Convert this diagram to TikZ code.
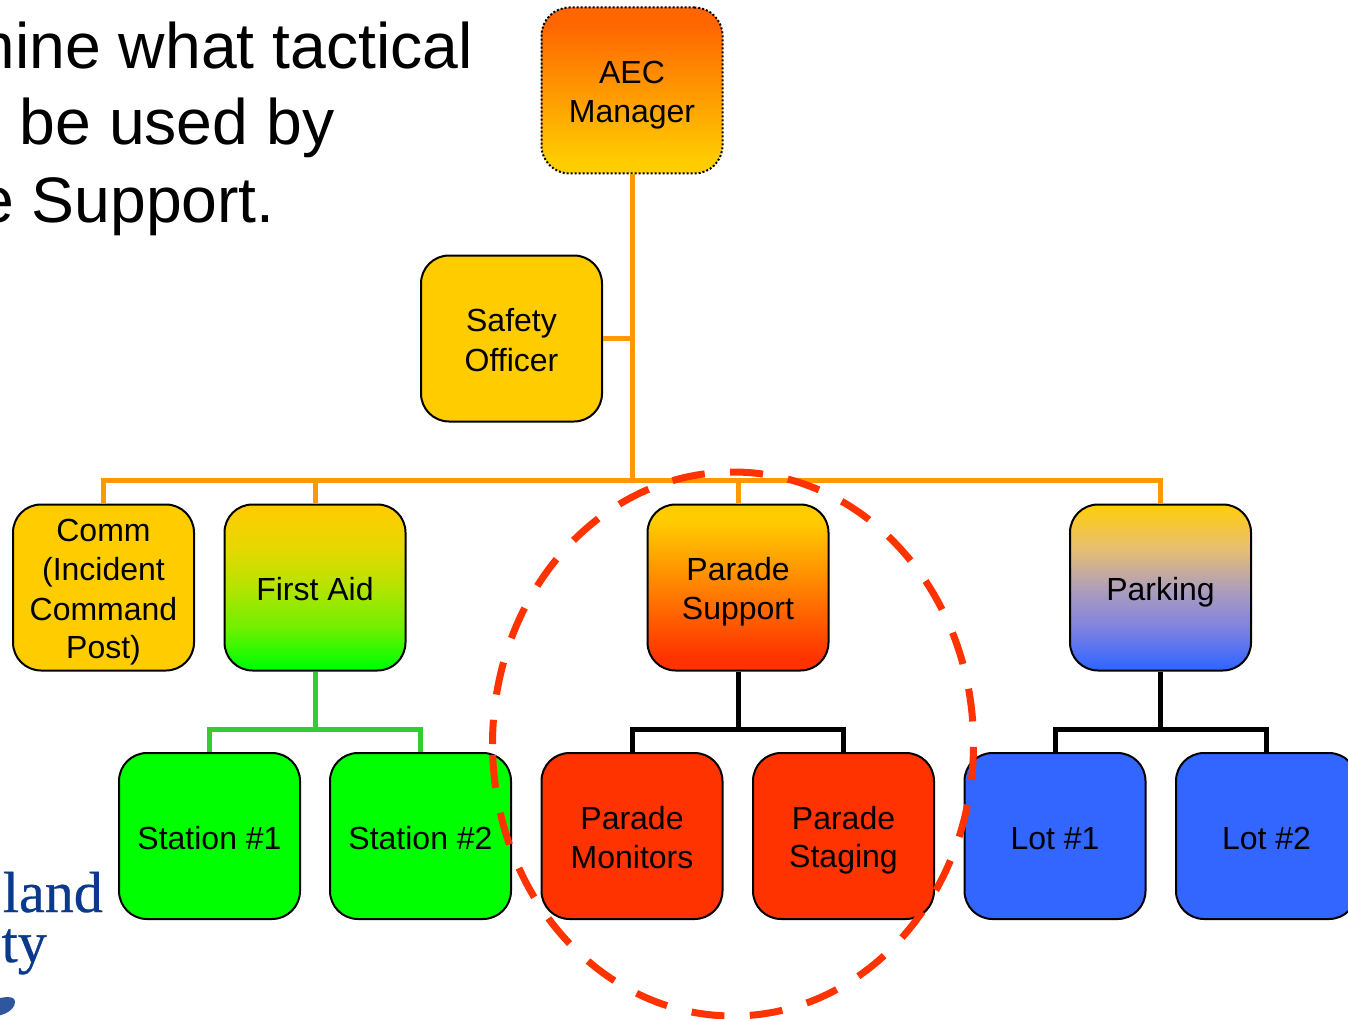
\documentclass[tikz,border=0pt]{standalone}
\usepackage{fontspec}
\setmainfont{Liberation Sans}
\newfontfamily\logofont[FakeBold=0.5]{Liberation Serif}
\usetikzlibrary{calc}
\definecolor{cOrange}{HTML}{FF9900}
\definecolor{cGreenLine}{HTML}{33CC33}
\definecolor{cRed}{HTML}{FF3300}
\definecolor{cGold}{HTML}{FFCC00}
\definecolor{cSoft}{HTML}{FFCC10}
\definecolor{cDeep}{HTML}{FF6600}
\definecolor{cLime}{HTML}{00FF00}
\definecolor{cBlue}{HTML}{3366FF}
\definecolor{cNavy}{HTML}{0B3A8C}
\definecolor{cAidA}{HTML}{E6D800}
\definecolor{cAidB}{HTML}{B4E400}
\definecolor{cAidC}{HTML}{70F000}
\definecolor{cParkA}{HTML}{E8BF70}
\definecolor{cParkB}{HTML}{B09FB8}
\definecolor{cParkC}{HTML}{7F82E0}
\pgfdeclareverticalshading{shAec}{100bp}{color(0bp)=(cGold); color(29bp)=(cGold); color(70bp)=(cDeep); color(100bp)=(cDeep)}
\pgfdeclareverticalshading{shAid}{100bp}{color(0bp)=(cLime); color(26bp)=(cLime); color(38bp)=(cAidC); color(50bp)=(cAidB); color(62bp)=(cAidA); color(74bp)=(cGold); color(100bp)=(cGold)}
\pgfdeclareverticalshading{shSup}{100bp}{color(0bp)=(cRed); color(29bp)=(cRed); color(70bp)=(cGold); color(100bp)=(cGold)}
\pgfdeclareverticalshading{shPark}{100bp}{color(0bp)=(cBlue); color(26bp)=(cBlue); color(38bp)=(cParkC); color(50bp)=(cParkB); color(62bp)=(cParkA); color(74bp)=(cSoft); color(100bp)=(cSoft)}
\newcommand\sline{\rule[-6pt]{0pt}{38pt}}
\tikzset{
  box/.style={draw=black,line width=2pt,rounded corners=28pt,minimum width=181pt,minimum height=166pt,
    inner sep=0pt,align=center,font=\fontsize{32}{38.5}\selectfont},
  goldbox/.style={box,fill=cGold},
  limebox/.style={box,fill=cLime},
  redbox/.style={box,fill=cRed},
  bluebox/.style={box,fill=cBlue},
  conn/.style={line width=5pt,line join=miter},
  title/.style={anchor=base east,inner sep=0pt,font=\fontsize{64.3}{76}\selectfont},
  logo/.style={anchor=base east,inner sep=0pt,text=cNavy,font=\logofont\fontsize{58}{58}\selectfont}
}
\begin{document}
\begin{tikzpicture}[x=1pt,y=-1pt]
\useasboundingbox (0,0) rectangle (1348,1019);
\clip (0,0) rectangle (1348,1019);
\node[title] (t1) at (473,69) {mine what tactical};
\node[title] (t2) at (334.5,145) {be used by};
\node[title] (t3) at (275,222) {e Support.};
\node[logo] (l1) at (103,912) {land};
\node[logo] (l2) at (47,962) {ty};
\fill[cNavy!85!white] (-12,1016) .. controls (-2,1018) and (15,1012) .. (15,1002) .. controls (15,995) and (4,997) .. (-5,999) -- cycle;

\node[box,dotted,shading=shAec] (aec) at (632,90.5) {\sline AEC\\\sline Manager};
\node[goldbox] (safety) at (511.5,338.5) {\sline Safety\\\sline Officer};
\node[goldbox] (comm) at (103.5,587.5) {\sline Comm\\\sline (Incident\\\sline Command\\\sline Post)};
\node[box,shading=shAid] (aid) at (315,587.5) {\sline First Aid};
\node[box,shading=shSup] (support) at (738,587.5) {\sline Parade\\\sline Support};
\node[box,shading=shPark] (parking) at (1160.5,587.5) {\sline Parking};
\node[limebox] (st1) at (209.5,836) {\sline Station \#1};
\node[limebox] (st2) at (420.5,836) {\sline Station \#2};
\node[redbox] (mon) at (632,836) {\sline Parade\\\sline Monitors};
\node[redbox] (stg) at (843.5,836) {\sline Parade\\\sline Staging};
\node[bluebox] (lot1) at (1055,836) {\sline Lot \#1};
\node[bluebox] (lot2) at (1266.5,836) {\sline Lot \#2};

\coordinate (bus) at (632.5,480);
\coordinate (gj) at (315,729);
\coordinate (bj) at (738,729);
\coordinate (pj) at (1160.5,729);
\begin{scope}[conn,draw=cOrange]
\draw (aec.south) -- (aec.south |- bus);
\draw (safety.east) -- (safety.east -| aec.south);
\draw (comm.north) |- (bus) -| (parking.north);
\draw (aid.north) -- (aid.north |- bus);
\draw (support.north) -- (support.north |- bus);
\end{scope}
\begin{scope}[conn,draw=cGreenLine]
\draw (aid.south) -- (gj);
\draw (st1.north) |- (gj) -| (st2.north);
\end{scope}
\begin{scope}[conn,draw=black]
\draw (support.south) -- (bj);
\draw (mon.north) |- (bj) -| (stg.north);
\draw (parking.south) -- (pj);
\draw (lot1.north) |- (pj) -| (lot2.north);
\end{scope}
\draw[draw=cRed,line width=7pt,dash pattern=on 33pt off 25.39pt,dash phase=47.39pt] (492.5,744) arc[start angle=180,end angle=540,x radius=240.5pt,y radius=272pt];
\end{tikzpicture}
\end{document}
